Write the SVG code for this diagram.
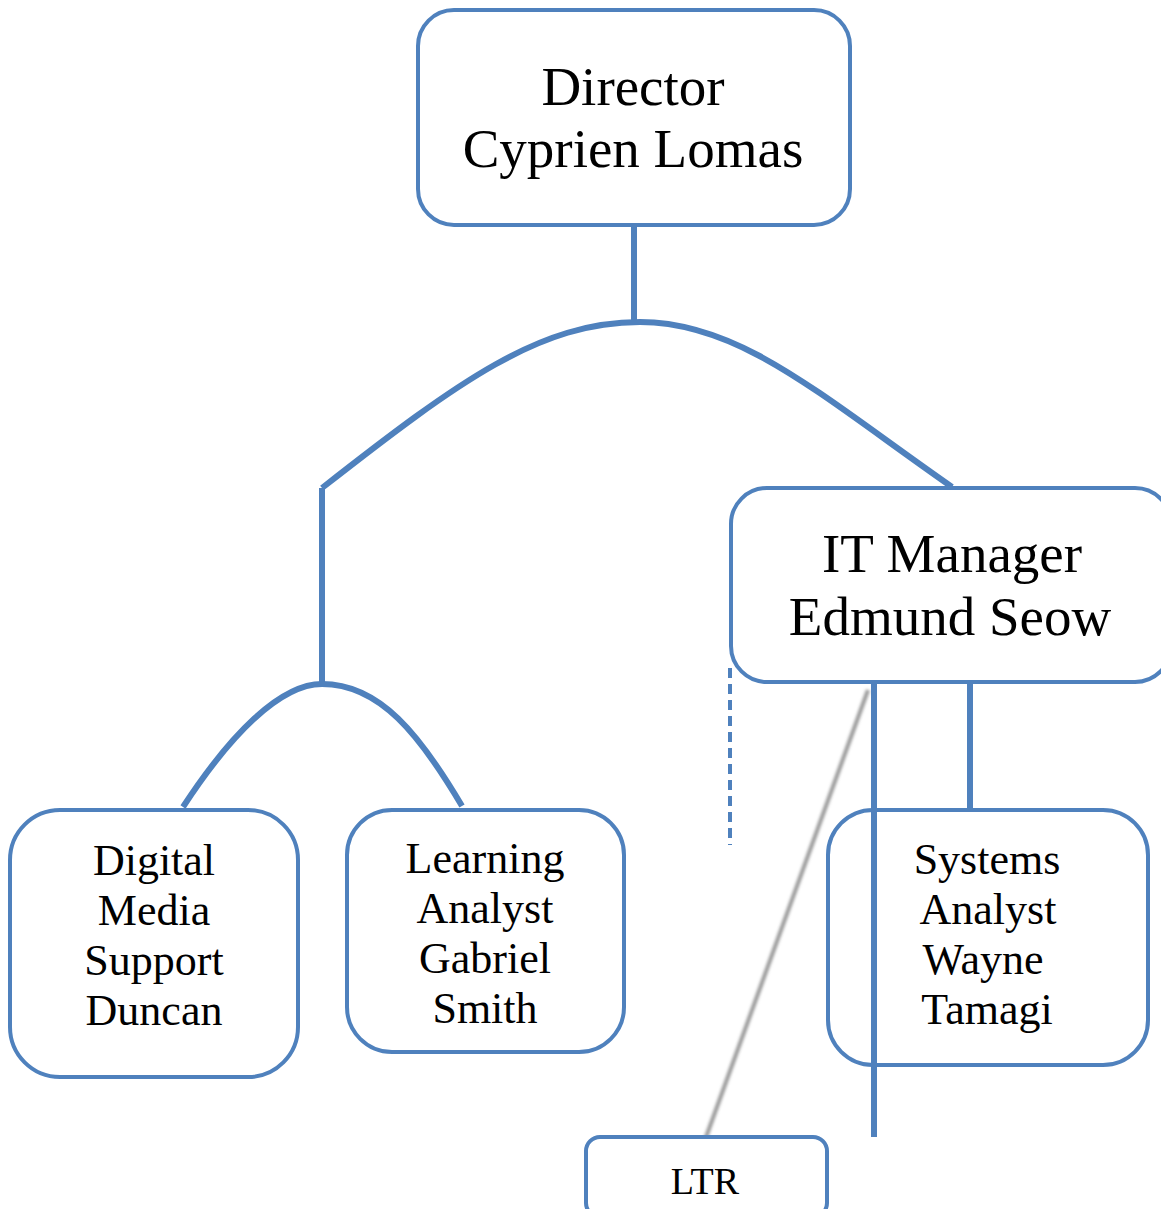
<svg xmlns="http://www.w3.org/2000/svg" width="1161" height="1209" viewBox="0 0 1161 1209">
<style>
.box{fill:#fff;stroke:#4F81BD;stroke-width:4}
.ln{fill:none;stroke:#4F81BD;stroke-width:6}
.t{font-family:"Liberation Serif","Times New Roman",serif;fill:#000;text-anchor:middle}
.big{font-size:55px}
.sm{font-size:44px}
</style>
<defs>
<filter id="blur" x="-50%" y="-10%" width="200%" height="120%"><feGaussianBlur stdDeviation="1.5"/></filter>
</defs>
<rect width="1161" height="1209" fill="#fff"/>
<g id="connectors">
<line x1="634" y1="226" x2="634" y2="322" class="ln"/>
<path d="M322,488 C460,380 540,322 640,322 C740,322 820,395 952,487" class="ln"/>
<line x1="322" y1="488" x2="322" y2="682" class="ln"/>
<path d="M183,807 C230,735 280,684 322,684 C380,684 420,735 462,806" class="ln"/>
<line x1="730" y1="668" x2="730" y2="845" stroke="#4F81BD" stroke-width="4" stroke-dasharray="10,6"/>
<line x1="868" y1="690" x2="705" y2="1140" stroke="#999" stroke-width="4" filter="url(#blur)"/>
<line x1="970" y1="684" x2="970" y2="843" class="ln"/>
</g>
<g id="director">
<rect x="418" y="10" width="432" height="215" rx="36" class="box"/>
<text x="633" y="105" class="t big">Director</text>
<text x="633" y="167" class="t big">Cyprien Lomas</text>
</g>
<g id="it-manager">
<rect x="731" y="488" width="440" height="194" rx="36" class="box"/>
<text x="952" y="572" class="t big">IT Manager</text>
<text x="950" y="635" class="t big">Edmund Seow</text>
</g>
<g id="digital-media">
<rect x="10" y="810" width="288" height="267" rx="50" class="box"/>
<text x="154" y="875" class="t sm">Digital</text>
<text x="154" y="925" class="t sm">Media</text>
<text x="154" y="975" class="t sm">Support</text>
<text x="154" y="1025" class="t sm">Duncan</text>
</g>
<g id="learning-analyst">
<rect x="347" y="810" width="277" height="242" rx="45" class="box"/>
<text x="485" y="873" class="t sm">Learning</text>
<text x="485" y="923" class="t sm">Analyst</text>
<text x="485" y="973" class="t sm">Gabriel</text>
<text x="485" y="1023" class="t sm">Smith</text>
</g>
<g id="systems-analyst">
<rect x="828" y="810" width="320" height="255" rx="45" class="box"/>
<text x="987" y="874" class="t sm">Systems</text>
<text x="988" y="924" class="t sm">Analyst</text>
<text x="983" y="974" class="t sm">Wayne</text>
<text x="987" y="1024" class="t sm">Tamagi</text>
</g>
<line x1="874" y1="684" x2="874" y2="1137" class="ln"/>
<g id="ltr">
<rect x="586" y="1137" width="241" height="80" rx="14" class="box"/>
<text x="705" y="1194" class="t" font-size="38">LTR</text>
</g>
</svg>
